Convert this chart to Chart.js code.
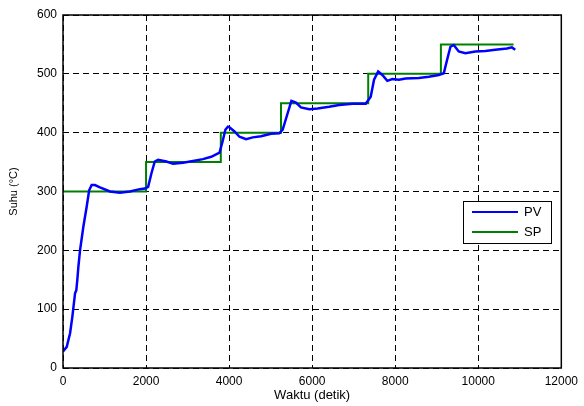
<!DOCTYPE html>
<html>
<head>
<meta charset="utf-8">
<script src="https://cdn.jsdelivr.net/npm/chart.js@4"></script>
<style>
  html, body { margin: 0; padding: 0; background: #fff; }
  #wrap { width: 584px; height: 406px; }
</style>
</head>
<body>
<div id="wrap"><canvas id="tempChart" width="584" height="406"></canvas></div>
<script>
// set point (SP) steps
const spTime  = [0, 2000, 2000, 3800, 3800, 5250, 5250, 7350, 7350, 9100, 9100, 10850];
const spValue = [300, 300, 350, 350, 400, 400, 450, 450, 500, 500, 550, 550];

// process value (PV)
const pvTime = [0, 90, 170, 225, 290, 320, 345, 370, 410, 490, 570, 630, 690, 770, 890,
    1130, 1370, 1610, 1850, 1970, 2050, 2130, 2210, 2290, 2490, 2650, 2890, 3130,
    3370, 3570, 3770, 3850, 3910, 3970, 4010, 4130, 4250, 4410, 4570, 4770, 5010,
    5210, 5290, 5410, 5500, 5610, 5730, 5930, 6130, 6410, 6650, 6970, 7290, 7410,
    7490, 7590, 7690, 7810, 7930, 8090, 8250, 8570, 8810, 9050, 9170, 9250, 9330,
    9410, 9530, 9690, 9930, 10170, 10410, 10690, 10810, 10890];
const pvValue = [28, 36, 59, 87, 127, 132, 150, 172, 200, 240, 274, 302, 311, 311, 307,
    300, 298, 300, 304, 305, 308, 331, 351, 354, 351, 347, 349, 352,
    355, 359, 366, 387, 405, 410, 409, 402, 393, 389, 392, 394, 398,
    399, 405, 433, 454, 451, 443, 440, 441, 444, 447, 449, 449, 461,
    490, 504, 498, 488, 491, 490, 492, 493, 495, 498, 501, 524, 546,
    549, 538, 535, 538, 539, 541, 543, 545, 541];

const xTicks = [0, 2000, 4000, 6000, 8000, 10000, 12000];
const yTicks = [0, 100, 200, 300, 400, 500, 600];

const toPoints = (xs, ys) => xs.map((x, i) => ({ x: x, y: ys[i] }));

// box around the plot + legend in the upper right like matlab
const boxPlugin = {
    id: 'box',
    afterDraw(chart) {
        const { ctx, chartArea: a } = chart;
        ctx.save();
        ctx.strokeStyle = '#000';
        ctx.lineWidth = 1.5;
        ctx.strokeRect(a.left, a.top, a.right - a.left, a.bottom - a.top);

        // legend
        const lx = 463, ly = 201, lw = 88, lh = 42;
        ctx.fillStyle = '#fff';
        ctx.fillRect(lx, ly, lw, lh);
        ctx.lineWidth = 1;
        ctx.strokeRect(lx + 0.5, ly + 0.5, lw, lh);
        ctx.font = '13px "Liberation Sans", Arial, sans-serif';
        ctx.textBaseline = 'middle';
        chart.data.datasets.forEach((ds, i) => {
            const y = ly + 11 + i * 20;
            ctx.strokeStyle = ds.borderColor;
            ctx.lineWidth = 2;
            ctx.beginPath();
            ctx.moveTo(lx + 9, y);
            ctx.lineTo(lx + 55, y);
            ctx.stroke();
            ctx.fillStyle = '#000';
            ctx.fillText(ds.label, lx + 61, y);
        });
        ctx.restore();
    }
};

const gridOpts = { color: '#000', lineWidth: 1, drawTicks: false };
const borderOpts = { display: false, dash: [6, 4] };
const tickFont = { family: '"Liberation Sans", Arial, sans-serif', size: 12 };

const ctx = document.getElementById('tempChart').getContext('2d');
new Chart(ctx, {
    type: 'line',
    data: {
        datasets: [{
            label: 'PV',
            data: toPoints(pvTime, pvValue),
            borderColor: '#0000ff',
            borderWidth: 2.5,
            pointRadius: 0,
            tension: 0,
            fill: false
        }, {
            label: 'SP',
            data: toPoints(spTime, spValue),
            borderColor: '#008000',
            borderWidth: 2,
            pointRadius: 0,
            tension: 0,
            fill: false
        }]
    },
    options: {
        responsive: false,
        animation: false,
        layout: { padding: { top: 15, right: 21, left: 0, bottom: 0 } },
        plugins: {
            legend: { display: false },
            tooltip: { enabled: false }
        },
        scales: {
            x: {
                type: 'linear',
                min: 0,
                max: 12000,
                afterBuildTicks: s => { s.ticks = xTicks.map(v => ({ value: v })); },
                afterFit: s => { s.height = 38; },
                grid: gridOpts,
                border: borderOpts,
                ticks: {
                    color: '#000',
                    padding: 6,
                    maxRotation: 0,
                    font: tickFont,
                    callback: v => String(v)
                },
                title: {
                    display: true,
                    text: 'Waktu (detik)',
                    color: '#000',
                    padding: { top: 0, bottom: 3 },
                    font: { family: '"Liberation Sans", Arial, sans-serif', size: 13 }
                }
            },
            y: {
                min: 0,
                max: 600,
                afterBuildTicks: s => { s.ticks = yTicks.map(v => ({ value: v })); },
                afterFit: s => { s.width = 63; },
                grid: gridOpts,
                border: borderOpts,
                ticks: {
                    color: '#000',
                    padding: 6,
                    font: tickFont,
                    callback: v => String(v)
                },
                title: {
                    display: true,
                    text: 'Suhu (°C)',
                    color: '#000',
                    padding: { top: 7, bottom: 0 },
                    font: { family: '"Liberation Sans", Arial, sans-serif', size: 11 }
                }
            }
        }
    },
    plugins: [boxPlugin]
});
</script>
</body>
</html>
